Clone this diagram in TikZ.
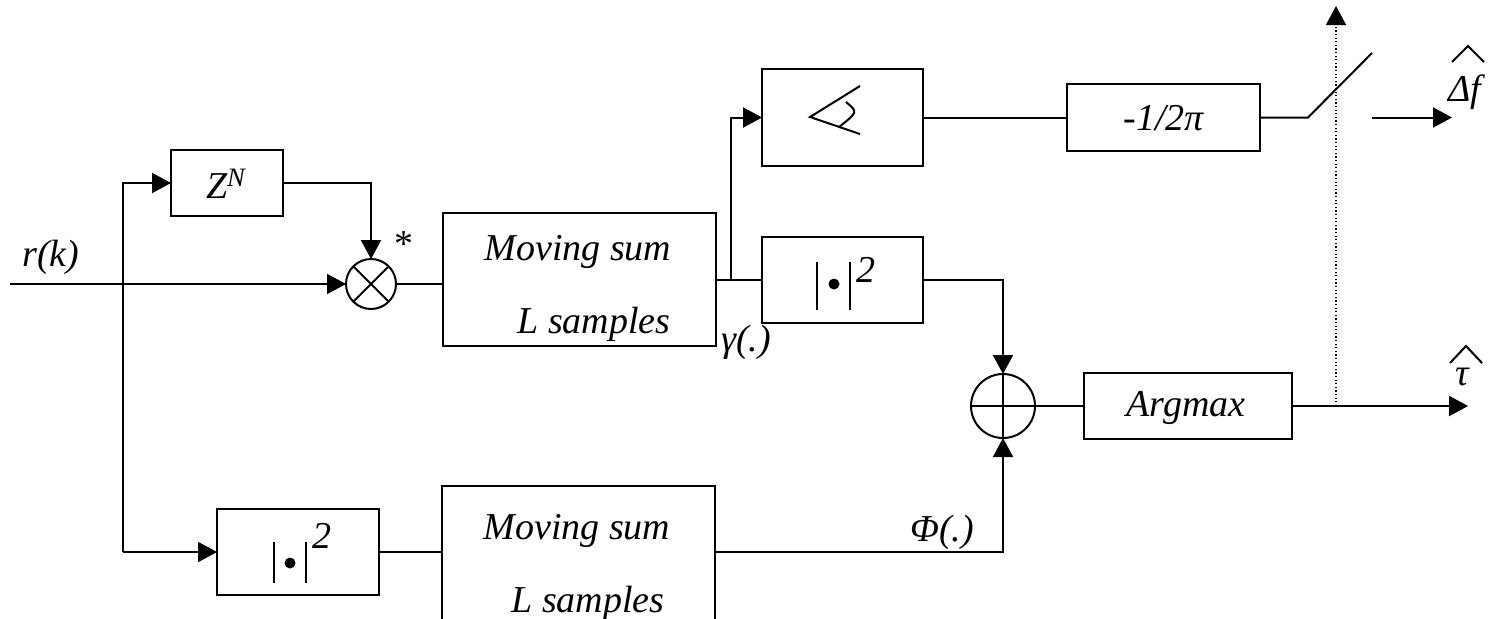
\documentclass[tikz,border=0pt]{standalone}
\usepackage{fontspec}
\setmainfont{Liberation Serif}[ItalicFont={Liberation Serif Italic},UprightFont={Liberation Serif}]
\newfontfamily\timesfont{Liberation Serif}[ItalicFont={Liberation Serif Italic}]
\usetikzlibrary{arrows.meta}
\begin{document}
\begin{tikzpicture}[x=0.5pt,y=-0.5pt,line width=1pt,
  blk/.style={draw,line width=1pt,inner sep=0pt,outer sep=0pt},
  sumc/.style={draw,circle,line width=1pt,inner sep=0pt,outer sep=0pt},
  arr/.style={-{Triangle[length=9.5pt,width=10pt]}},
  lbl/.style={inner sep=0pt,font=\timesfont\fontsize{19pt}{22pt}\selectfont\itshape},
  dotline/.style={line width=0.6pt,dash pattern=on 0.6pt off 1.2pt}]
\useasboundingbox (0,0) rectangle (1491,618);
\clip (0,0) rectangle (1491,618);
% blocks
\node[blk,minimum width=56pt,minimum height=33pt] (zn) at (227,183) {};
\node[blk,minimum width=136.5pt,minimum height=66.5pt] (ms1) at (579.5,279.5) {};
\node[blk,minimum width=80.5pt,minimum height=48.5pt] (ang) at (842.5,117.5) {};
\node[blk,minimum width=96.5pt,minimum height=33.5pt] (pi) at (1163.5,117.5) {};
\node[blk,minimum width=80.5pt,minimum height=43pt] (sq1) at (842.5,280) {};
\node[blk,minimum width=104pt,minimum height=33pt] (arg) at (1188,406) {};
\node[blk,minimum width=81pt,minimum height=43pt] (sq2) at (298,552) {};
\node[blk,minimum width=136.5pt,minimum height=69.5pt] (ms2) at (578.5,555.5) {};
\node[sumc,minimum size=25pt] (mul) at (371,284) {};
\node[sumc,minimum size=32pt] (add) at (1003,406) {};
% circle marks
\draw (mul.north west) -- (mul.south east) (mul.north east) -- (mul.south west);
\draw (add.north) -- (add.south) (add.west) -- (add.east);
% texts in blocks
\node[lbl] (tzn) at (226,184) {Z\textsuperscript{N}};
\node[lbl] (tms1a) at (578,252) {Moving sum};
\node[lbl] (tms1b) at (594,324) {L samples};
\node[lbl] (tms2a) at (577,531) {Moving sum};
\node[lbl] (tms2b) at (588,603) {L samples};
\node[lbl] (tpi) at (1163.5,118) {-1/2π};
\node[lbl] (targ) at (1186,408) {Argmax};
% |.|^2 upper
\draw (817,262) -- (817,310) (850,262) -- (850,310);
\fill (834,284) circle (5.5);
\node[lbl] (two1) at (866,270) {2};
% |.|^2 lower
\draw (274,542) -- (274,583) (306,542) -- (306,583);
\fill (290,563) circle (5.5);
\node[lbl] (two2) at (322,536) {2};
% angle symbol
\draw (860,86) -- (810,117) -- (860,134);
\draw (846,102) .. controls (858,112) .. (839,127);
% coordinates
\coordinate (rin) at (10,284);
\coordinate (bb) at (123,552);
\coordinate (gb) at (731,280);
\coordinate (sw1) at (1308,117.5);
\coordinate (sw2) at (1372,53);
\coordinate (dfs) at (1372,117.5);
\coordinate (dfe) at (1452,117.5);
\coordinate (ms2o) at (715,552);
\coordinate (tauo) at (1468,406);
\coordinate (dd) at (1336,406);
\coordinate (du) at (1336,6);
% connectors
\draw[arr] (rin) -- (mul.west);
\draw[arr] (bb) |- (zn.west);
\draw[arr] (bb) -- (sq2.west);
\draw[arr] (zn.east) -| (mul.north);
\draw (mul.east) -- (mul.east -| ms1.west);
\draw (ms1.east |- sq1.west) -- (sq1.west);
\draw[arr] (gb) |- (ang.west);
\draw (ang.east) -- (pi.west);
\draw (pi.east) -- (sw1) -- (sw2);
\draw[arr] (dfs) -- (dfe);
\draw[arr] (sq1.east) -| (add.north);
\draw (sq2.east) -- (sq2.east -| ms2.west);
\draw[arr] (ms2o) -| (add.south);
\draw (add.east) -- (arg.west);
\draw[arr] (arg.east) -- (tauo);
\draw[dotline,arr] (dd) -- (du);
% labels
\node[lbl] (lr) at (51,257) {r(k)};
\node[inner sep=0pt,font=\timesfont\fontsize{19pt}{22pt}\selectfont] (star) at (404,244) {*};
\node[lbl] (lg) at (746,342) {γ(.)};
\node[lbl] (lphi) at (942,532) {Φ(.)};
\node[lbl] (ldf) at (1465,92) {Δf};
\draw (1452,62) -- (1468,46) -- (1484,62);
\node[lbl] (ltau) at (1462,377) {τ};
\draw (1450,363) -- (1466,346) -- (1482,363);
\end{tikzpicture}
\end{document}
